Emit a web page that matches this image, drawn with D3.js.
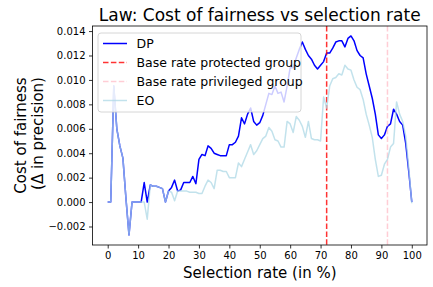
<!DOCTYPE html>
<html><head><meta charset="utf-8">
<script src="https://cdn.jsdelivr.net/npm/d3@7"></script>
<style>
html,body{margin:0;padding:0;background:#fff;}
text{font-family:"DejaVu Sans",sans-serif;fill:#000;}
</style></head>
<body><svg id="c" width="433" height="287"></svg>
<script>
const title = "Law: Cost of fairness vs selection rate";
const xLabel = "Selection rate (in %)";
const yLabel1 = "Cost of fairness";
const yLabel2 = "(\u0394 in precision)";
const rates = d3.range(0, 101);
const dpValues = [
 0,0,0.0095,0.0060,0.0046,0.0036,0.0003,-0.0027,0,0,
 0,0,0.0016,0,0.0014,0.0013,0.0013,0.0012,0.0011,0,
 0.0009,0.0012,0.0018,0.0009,0.0010,0.0016,0.0016,0.0016,0.0021,0.0015,
 0.0035,0.0039,0.0038,0.0046,0.0044,0.0040,0.0039,0.0038,0.0038,0.0038,
 0.0047,0.0047,0.0049,0.0054,0.0069,0.0064,0.0072,0.0077,0.0066,0.0063,
 0.0065,0.0071,0.0080,0.0089,0.0088,0.0095,0.0089,0.0090,0.0082,0.0095,
 0.0110,0.0110,0.0118,0.0125,0.0131,0.0125,0.0120,0.0117,0.0112,0.0109,
 0.0112,0.0115,0.0122,0.0122,0.0126,0.0131,0.0132,0.0132,0.0127,0.0134,
 0.0136,0.0132,0.0124,0.0120,0.0118,0.0105,0.0095,0.0085,0.0072,0.0055,
 0.0052,0.0055,0.0062,0.0064,0.0076,0.0072,0.0066,0.0063,0.0048,0.0025,
 0.0
];
const eoValues = [
 0,0,0.0095,0.0060,0.0046,0.0036,0.0003,-0.0027,0,0,
 0,0,0,-0.0014,0.0014,0.0013,0.0013,0.0012,0.0011,0,
 0.0009,0.0008,0.0001,0.0009,0.0009,0.0009,0.0009,0.0008,0.0008,0.0008,
 0.0007,0.0007,0.0013,0.0018,0.0016,0.0011,0.0026,0.0026,0.0025,0.0025,
 0.0020,0.0020,0.0020,0.0032,0.0029,0.0035,0.0041,0.0047,0.0039,0.0042,
 0.0047,0.0052,0.0054,0.0061,0.0058,0.0051,0.0050,0.0045,0.0045,0.0066,
 0.0064,0.0057,0.0070,0.0067,0.0062,0.0053,0.0066,0.0052,0.0051,0.0051,
 0.0050,0.0086,0.0077,0.0095,0.0101,0.0102,0.0105,0.0104,0.0112,0.0109,
 0.0108,0.0100,0.0094,0.0092,0.0084,0.0072,0.0063,0.0053,0.0035,0.0021,
 0.0022,0.0031,0.0035,0.0045,0.0048,0.0082,0.0072,0.0066,0.0054,0.0028,
 -0.0001
];
const baseRateProtected = 72;
const baseRatePrivileged = 92;
const xTicks = [0,10,20,30,40,50,60,70,80,90,100];
const yTicks = [-0.002,0,0.002,0.004,0.006,0.008,0.010,0.012,0.014];
const legendLabels = ["DP","Base rate protected group","Base rate privileged group","EO"];

const svg = d3.select("#c");
const L = 92.5, R = 427, T = 26, B = 245;
const all = dpValues.concat(eoValues);
const ymin = d3.min(all), ymax = d3.max(all), pad = (ymax - ymin) * 0.05;
const x = d3.scaleLinear().domain([-5, 105]).range([L, R]);
const y = d3.scaleLinear().domain([ymin - pad, ymax + pad]).range([B, T]);

const g = svg.append("g");
const line = d3.line().x((d,i) => x(rates[i])).y(d => y(d));
g.append("path").datum(dpValues).attr("d", line).attr("fill","none")
 .attr("stroke","blue").attr("stroke-width",1.5).attr("stroke-linejoin","round");
g.append("line").attr("x1",x(baseRateProtected)).attr("x2",x(baseRateProtected))
 .attr("y1",T).attr("y2",B).attr("stroke","red").attr("stroke-opacity",0.8)
 .attr("stroke-width",1.5).attr("stroke-dasharray","5.5,2.4");
g.append("line").attr("x1",x(baseRatePrivileged)).attr("x2",x(baseRatePrivileged))
 .attr("y1",T).attr("y2",B).attr("stroke","pink").attr("stroke-opacity",0.8)
 .attr("stroke-width",1.5).attr("stroke-dasharray","5.5,2.4");
g.append("path").datum(eoValues).attr("d", line).attr("fill","none")
 .attr("stroke","lightblue").attr("stroke-opacity",0.75).attr("stroke-width",1.5).attr("stroke-linejoin","round");

// frame
svg.append("rect").attr("x",L).attr("y",T).attr("width",R-L).attr("height",B-T)
 .attr("fill","none").attr("stroke","#000").attr("stroke-width",0.8);

const fmtY = d => d3.format(".3f")(d).replace("-", "\u2212");
const xAxis = svg.append("g").attr("transform",`translate(0,${B})`)
 .call(d3.axisBottom(x).tickValues(xTicks).tickSize(3.5).tickPadding(3.5));
const yAxis = svg.append("g").attr("transform",`translate(${L},0)`)
 .call(d3.axisLeft(y).tickValues(yTicks).tickSize(3.5).tickPadding(3.5).tickFormat(fmtY));
[xAxis,yAxis].forEach(a => {
  a.select(".domain").remove();
  a.selectAll("line").attr("stroke","#000").attr("stroke-width",0.8);
  a.selectAll("text").style("font-family","DejaVu Sans").style("font-size","10px").attr("fill","#000");
});

svg.append("text").attr("x",(L+R)/2).attr("y",21).attr("text-anchor","middle")
 .style("font-size","17px").text(title);
svg.append("text").attr("x",(L+R)/2).attr("y",278).attr("text-anchor","middle")
 .style("font-size","15px").text(xLabel);
svg.append("text").attr("transform",`translate(26,${(T+B)/2}) rotate(-90)`).attr("text-anchor","middle")
 .style("font-size","15px").text(yLabel1);
svg.append("text").attr("transform",`translate(43,${(T+B)/2 - 2}) rotate(-90)`).attr("text-anchor","middle")
 .style("font-size","15px").text(yLabel2);

// legend
const lg = svg.append("g");
lg.append("rect").attr("x",98).attr("y",33).attr("width",203).attr("height",79).attr("rx",3)
 .attr("fill","#fff").attr("fill-opacity",0.8).attr("stroke","#ccc").attr("stroke-width",0.8);
const handles = [
 {stroke:"blue", dash:null, op:1},
 {stroke:"red", dash:"5.5,2.4", op:0.8},
 {stroke:"pink", dash:"5.5,2.4", op:0.8},
 {stroke:"lightblue", dash:null, op:0.75}
];
legendLabels.forEach((lab,i) => {
  const yy = 43.5 + i*19;
  lg.append("line").attr("x1",103).attr("x2",127).attr("y1",yy).attr("y2",yy)
   .attr("stroke",handles[i].stroke).attr("stroke-opacity",handles[i].op).attr("stroke-width",1.5)
   .attr("stroke-dasharray",handles[i].dash);
  lg.append("text").attr("x",136.5).attr("y",yy+4.5).style("font-size","12.5px").text(lab);
});
</script></body></html>
